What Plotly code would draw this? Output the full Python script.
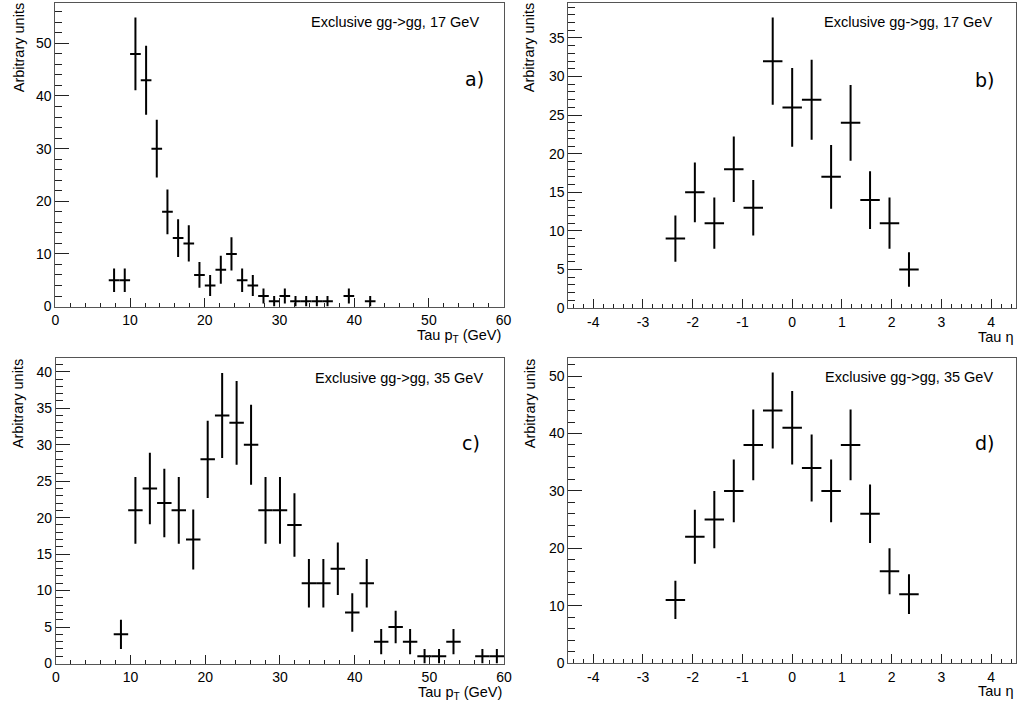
import numpy as np
import plotly.graph_objects as go

W, H = 1027, 717

# Histogram binning: (low edge, high edge, number of bins)
pt_bins_17 = (0.0, 60.0, 42)
pt_bins_35 = (0.0, 60.0, 31)
eta_bins = (-4.5, 4.5, 23)

# Bin contents (events per bin)
pt_counts_17 = [0, 0, 0, 0, 0, 5, 5, 48, 43, 30, 18, 13, 12, 6, 4, 7, 10, 5, 4, 2, 1,
                2, 1, 1, 1, 1, 0, 2, 0, 1, 0, 0, 0, 0, 0, 0, 0, 0, 0, 0, 0, 0]
eta_counts_17 = [0, 0, 0, 0, 0, 9, 15, 11, 18, 13, 32, 26, 27, 17, 24, 14, 11, 5,
                 0, 0, 0, 0, 0]
pt_counts_35 = [0, 0, 0, 0, 4, 21, 24, 22, 21, 17, 28, 34, 33, 30, 21, 21, 19, 11, 11,
                13, 7, 11, 3, 5, 3, 1, 1, 3, 0, 1, 1]
eta_counts_35 = [0, 0, 0, 0, 0, 11, 22, 25, 30, 38, 44, 41, 34, 30, 38, 26, 16, 12,
                 0, 0, 0, 0, 0]

captions = ["Exclusive gg->gg, 17 GeV", "Exclusive gg->gg, 17 GeV",
            "Exclusive gg->gg, 35 GeV", "Exclusive gg->gg, 35 GeV"]
panel_labels = ["a)", "b)", "c)", "d)"]
y_title = "Arbitrary units"
pt_title = "Tau p<sub>T</sub> (GeV)"
eta_title = "Tau \u03b7"
eta_ticks = [-4, -3, -2, -1, 0, 1, 2, 3, 4]

FONT = "Liberation Sans, Arial, Helvetica, sans-serif"
LABEL_FONT = "DejaVu Sans, Verdana, sans-serif"

# frame of each pad in pixels: left, right, top, bottom
frames = [(52, 505.5, 3, 310), (571, 1024, 3, 311.5),
          (52.5, 506, 362.5, 671), (571, 1024, 362, 670.5)]

panels = [
    dict(counts=pt_counts_17, bins=pt_bins_17, ydt=10, yminor=2, kind="pt"),
    dict(counts=eta_counts_17, bins=eta_bins, ydt=5, yminor=1, kind="eta"),
    dict(counts=pt_counts_35, bins=pt_bins_35, ydt=5, yminor=1, kind="pt"),
    dict(counts=eta_counts_35, bins=eta_bins, ydt=10, yminor=2, kind="eta"),
]

# text placements (pixel coords): caption right edge / centre y, label right / centre y,
# y-title centre x / centre y, x-title right edge / centre y
text_pos = [
    dict(cap=(483, 22.5), lab=(488, 80), yt=(16, 48), xt=(505, 340)),
    dict(cap=(1002, 22.5), lab=(1004, 81), yt=(532, 48), xt=(1023, 341)),
    dict(cap=(487, 382), lab=(484, 447.5), yt=(15, 408), xt=(506, 701)),
    dict(cap=(1003, 381), lab=(1004, 448), yt=(533, 408), xt=(1023, 699)),
]

fig = go.Figure()
layout = dict(
    width=W, height=H, margin=dict(l=0, r=0, t=0, b=0),
    paper_bgcolor="white", plot_bgcolor="white", showlegend=False,
    font=dict(family=FONT, size=14, color="black"),
)
annotations = []


def px(x):
    return x / W


def py(y):
    return 1 - y / H


for i, (p, fr) in enumerate(zip(panels, frames)):
    lo, hi, n = p["bins"]
    width = (hi - lo) / n
    centres = lo + width * (np.arange(n) + 0.5)
    counts = np.array(p["counts"], dtype=float)
    keep = counts > 0
    x = centres[keep]
    y = counts[keep]
    err = np.sqrt(y)
    ymax = 1.05 * float(np.max(y + err))

    sfx = "" if i == 0 else str(i + 1)
    fig.add_trace(go.Scatter(
        x=x, y=y, mode="markers",
        marker=dict(size=1, color="rgba(0,0,0,0)", line=dict(width=0)),
        error_x=dict(type="constant", value=width / 2, width=0, thickness=2, color="black"),
        error_y=dict(type="data", array=err, width=0, thickness=2, color="black"),
        xaxis="x" + sfx, yaxis="y" + sfx, hoverinfo="skip",
    ))

    left, right, top, bottom = fr
    xa = dict(
        domain=[px(left), px(right)], anchor="y" + sfx,
        showgrid=False, zeroline=False, showline=True, mirror=True,
        linecolor="#555", linewidth=1,
        ticks="inside", ticklen=9, tickwidth=1, tickcolor="#222",
        tickfont=dict(family=FONT, size=14, color="black"),
        ticklabelstandoff=1,
        range=[lo, hi],
    )
    if p["kind"] == "pt":
        xa.update(tickmode="linear", tick0=0, dtick=10,
                  minor=dict(ticks="inside", ticklen=4, tickcolor="#222",
                             tickmode="linear", tick0=0, dtick=2))
    else:
        xa.update(tickmode="array", tickvals=eta_ticks,
                  ticktext=[str(v) for v in eta_ticks],
                  minor=dict(ticks="inside", ticklen=4, tickcolor="#222",
                             tickmode="linear", tick0=0, dtick=0.2))
    ya = dict(
        domain=[py(bottom), py(top)], anchor="x" + sfx,
        showgrid=False, zeroline=False, showline=True, mirror=True,
        linecolor="#555", linewidth=1,
        ticks="inside", ticklen=14, tickwidth=1, tickcolor="#222",
        tickfont=dict(family=FONT, size=14, color="black"),
        range=[0, ymax], tickmode="linear", tick0=0, dtick=p["ydt"],
        minor=dict(ticks="inside", ticklen=7, tickcolor="#222",
                   tickmode="linear", tick0=0, dtick=p["yminor"]),
    )
    layout["xaxis" + sfx] = xa
    layout["yaxis" + sfx] = ya

    tp = text_pos[i]
    annotations.append(dict(
        text=captions[i], xref="paper", yref="paper",
        x=px(tp["cap"][0]), y=py(tp["cap"][1]), xanchor="right", yanchor="middle",
        showarrow=False, font=dict(family=FONT, size=14.5, color="black")))
    annotations.append(dict(
        text=panel_labels[i], xref="paper", yref="paper",
        x=px(tp["lab"][0]), y=py(tp["lab"][1]), xanchor="right", yanchor="middle",
        showarrow=False, font=dict(family=LABEL_FONT, size=19, color="black")))
    annotations.append(dict(
        text=y_title, xref="paper", yref="paper", textangle=-90,
        x=px(tp["yt"][0]), y=py(tp["yt"][1]), xanchor="center", yanchor="middle",
        showarrow=False, font=dict(family=FONT, size=14.5, color="black")))
    annotations.append(dict(
        text=pt_title if p["kind"] == "pt" else eta_title,
        xref="paper", yref="paper",
        x=px(tp["xt"][0]), y=py(tp["xt"][1]), xanchor="right", yanchor="middle",
        showarrow=False, font=dict(family=FONT, size=14.5, color="black")))

layout["annotations"] = annotations
fig.update_layout(**layout)
fig.write_html("out.html")
